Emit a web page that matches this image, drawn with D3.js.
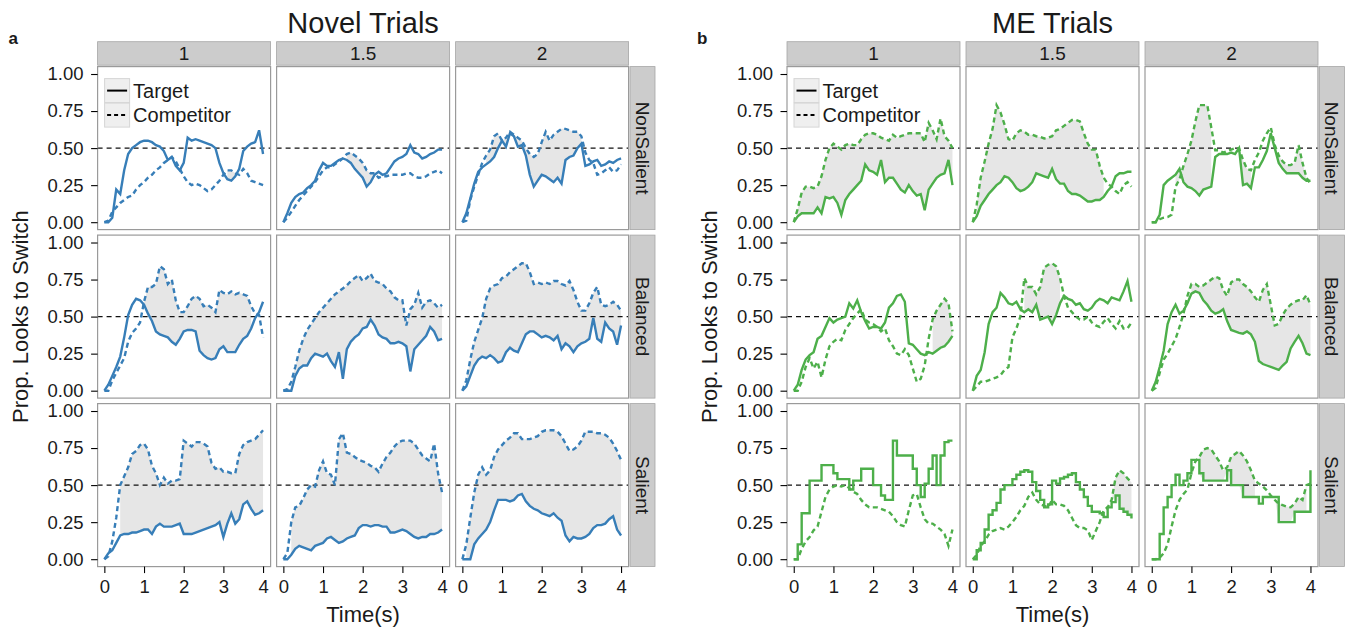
<!DOCTYPE html>
<html>
<head>
<meta charset="utf-8">
<script src="https://cdn.jsdelivr.net/npm/d3@7"></script>
<style>
  body { margin: 0; background: #fff; }
  text { font-family: "Liberation Sans", Arial, sans-serif; fill: #1a1a1a; }
</style>
</head>
<body>
<svg id="chart" width="1350" height="634"></svg>
<script>
// time grid (s) shared by every curve
const times = [0.0,0.1,0.2,0.3,0.4,0.5,0.6,0.7,0.8,0.9,1.0,1.1,1.2,1.3,1.4,1.5,1.6,1.7,1.8,1.9,2.0,
               2.1,2.2,2.3,2.4,2.5,2.6,2.7,2.8,2.9,3.0,3.1,3.2,3.3,3.4,3.5,3.6,3.7,3.8,3.9,4.0];

const rowNames = ["NonSalient", "Balanced", "Salient"];
const colNames = ["1", "1.5", "2"];
const yTicks = [0, 0.25, 0.5, 0.75, 1];
const xTicks = [0, 1, 2, 3, 4];

// ---- Novel trials ----
const novelNS1T = [0.00,0.00,0.03,0.22,0.19,0.35,0.46,0.50,0.52,0.54,0.55,0.55,0.54,0.52,0.51,0.48,0.42,0.44,0.38,0.35,0.40,0.57,0.55,0.56,0.55,0.54,0.53,0.52,0.50,0.40,0.33,0.29,0.28,0.31,0.36,0.48,0.51,0.53,0.54,0.62,0.46];
const novelNS1C = [0.00,0.01,0.07,0.10,0.13,0.15,0.17,0.18,0.22,0.25,0.27,0.30,0.32,0.35,0.37,0.40,0.42,0.44,0.41,0.36,0.31,0.27,0.25,0.26,0.25,0.23,0.21,0.22,0.25,0.28,0.32,0.35,0.35,0.33,0.32,0.36,0.33,0.28,0.27,0.26,0.25];
const novelNS15T = [0.00,0.06,0.13,0.17,0.19,0.20,0.23,0.25,0.28,0.35,0.40,0.38,0.38,0.40,0.42,0.43,0.42,0.40,0.36,0.33,0.30,0.24,0.27,0.32,0.34,0.32,0.33,0.37,0.41,0.43,0.44,0.46,0.52,0.47,0.46,0.43,0.44,0.46,0.47,0.49,0.49];
const novelNS15C = [0.00,0.03,0.07,0.11,0.15,0.18,0.21,0.24,0.27,0.31,0.35,0.37,0.37,0.39,0.41,0.43,0.46,0.47,0.45,0.43,0.40,0.35,0.33,0.33,0.30,0.31,0.31,0.32,0.32,0.32,0.32,0.33,0.33,0.31,0.30,0.30,0.31,0.33,0.34,0.35,0.33];
const novelNS2T = [0.00,0.06,0.16,0.26,0.34,0.37,0.39,0.41,0.44,0.50,0.55,0.51,0.60,0.58,0.51,0.52,0.45,0.32,0.24,0.28,0.32,0.31,0.29,0.27,0.30,0.26,0.42,0.44,0.45,0.50,0.53,0.38,0.39,0.41,0.42,0.38,0.39,0.41,0.40,0.42,0.43];
const novelNS2C = [0.00,0.01,0.15,0.24,0.32,0.40,0.45,0.49,0.58,0.60,0.55,0.57,0.61,0.59,0.57,0.55,0.50,0.46,0.44,0.46,0.54,0.61,0.55,0.59,0.61,0.63,0.63,0.62,0.61,0.61,0.58,0.47,0.42,0.40,0.32,0.33,0.35,0.37,0.34,0.35,0.39];
const novelBal1T = [0.00,0.04,0.10,0.16,0.23,0.36,0.51,0.58,0.62,0.61,0.58,0.52,0.47,0.40,0.38,0.37,0.36,0.33,0.31,0.35,0.40,0.41,0.41,0.40,0.27,0.24,0.22,0.21,0.22,0.28,0.30,0.26,0.26,0.26,0.31,0.35,0.37,0.42,0.49,0.53,0.60];
const novelBal1C = [0.00,0.00,0.07,0.12,0.17,0.22,0.33,0.39,0.42,0.46,0.60,0.70,0.70,0.72,0.84,0.82,0.72,0.75,0.61,0.53,0.53,0.57,0.62,0.64,0.62,0.57,0.58,0.56,0.53,0.68,0.66,0.65,0.67,0.65,0.66,0.65,0.64,0.57,0.52,0.51,0.36];
const novelBal15T = [0.00,0.00,0.00,0.10,0.15,0.17,0.17,0.22,0.25,0.24,0.23,0.25,0.20,0.16,0.26,0.08,0.28,0.33,0.36,0.38,0.42,0.43,0.48,0.44,0.38,0.36,0.35,0.32,0.32,0.33,0.32,0.30,0.13,0.28,0.31,0.34,0.37,0.43,0.40,0.34,0.35];
const novelBal15C = [0.00,0.01,0.06,0.16,0.27,0.35,0.41,0.45,0.49,0.53,0.56,0.59,0.62,0.65,0.67,0.69,0.71,0.74,0.76,0.78,0.74,0.76,0.79,0.74,0.73,0.72,0.69,0.67,0.63,0.61,0.61,0.44,0.55,0.58,0.66,0.56,0.60,0.61,0.59,0.56,0.58];
const novelBal2T = [0.00,0.03,0.10,0.17,0.21,0.23,0.22,0.24,0.22,0.19,0.20,0.26,0.29,0.27,0.26,0.32,0.38,0.40,0.40,0.38,0.36,0.37,0.36,0.34,0.37,0.28,0.32,0.30,0.26,0.30,0.32,0.33,0.35,0.49,0.35,0.33,0.46,0.42,0.40,0.31,0.44];
const novelBal2C = [0.00,0.07,0.21,0.33,0.41,0.49,0.62,0.69,0.71,0.72,0.76,0.77,0.80,0.82,0.84,0.86,0.86,0.80,0.72,0.73,0.72,0.73,0.72,0.74,0.74,0.72,0.71,0.74,0.68,0.60,0.54,0.54,0.59,0.66,0.70,0.58,0.57,0.58,0.60,0.58,0.54];
const novelSal1T = [0.00,0.04,0.06,0.11,0.16,0.17,0.17,0.18,0.18,0.19,0.20,0.20,0.17,0.22,0.24,0.22,0.22,0.22,0.23,0.24,0.17,0.17,0.17,0.18,0.19,0.20,0.21,0.22,0.23,0.25,0.15,0.24,0.31,0.24,0.27,0.37,0.39,0.34,0.30,0.31,0.33];
const novelSal1C = [0.00,0.02,0.12,0.28,0.50,0.56,0.62,0.71,0.73,0.77,0.78,0.74,0.63,0.58,0.50,0.55,0.51,0.53,0.53,0.54,0.80,0.78,0.76,0.79,0.79,0.78,0.76,0.65,0.61,0.62,0.59,0.59,0.58,0.58,0.71,0.77,0.79,0.80,0.81,0.84,0.87];
const novelSal15T = [0.00,0.00,0.03,0.07,0.09,0.08,0.07,0.06,0.09,0.10,0.11,0.14,0.15,0.13,0.11,0.12,0.14,0.15,0.16,0.21,0.23,0.23,0.22,0.23,0.23,0.22,0.22,0.18,0.18,0.19,0.20,0.19,0.17,0.15,0.14,0.15,0.15,0.17,0.17,0.18,0.20];
const novelSal15C = [0.00,0.04,0.25,0.35,0.36,0.41,0.47,0.50,0.49,0.60,0.66,0.58,0.57,0.50,0.81,0.85,0.72,0.71,0.69,0.67,0.66,0.65,0.63,0.62,0.59,0.645,0.69,0.72,0.76,0.79,0.80,0.80,0.80,0.78,0.74,0.70,0.68,0.66,0.78,0.58,0.45];
const novelSal2T = [0.00,0.00,0.00,0.10,0.14,0.17,0.20,0.25,0.33,0.40,0.40,0.40,0.39,0.40,0.43,0.44,0.39,0.36,0.34,0.33,0.31,0.30,0.29,0.31,0.28,0.26,0.16,0.12,0.15,0.14,0.14,0.15,0.17,0.21,0.23,0.23,0.24,0.27,0.29,0.20,0.16];
const novelSal2C = [0.00,0.10,0.28,0.45,0.57,0.62,0.57,0.60,0.69,0.74,0.77,0.80,0.82,0.85,0.85,0.81,0.81,0.81,0.82,0.83,0.86,0.87,0.87,0.87,0.86,0.83,0.78,0.73,0.74,0.76,0.80,0.86,0.86,0.86,0.85,0.85,0.84,0.82,0.78,0.73,0.67];

// shaded windows (s) where the two curves separate
const novelShade = [
  [[[3.1, 3.3]], [[1.6, 2.3]], [[0.6, 3.05]]],
  [[[1.0, 3.75]], [[0.2, 4.0]], [[0.1, 4.0]]],
  [[[0.4, 4.0]], [[0.15, 4.0]], [[0.05, 4.0]]]
];

// ---- ME trials ----
const meNS1T = [0.00,0.04,0.06,0.06,0.06,0.06,0.10,0.06,0.17,0.16,0.17,0.13,0.05,0.15,0.19,0.22,0.25,0.28,0.39,0.35,0.34,0.32,0.42,0.27,0.30,0.30,0.26,0.22,0.20,0.25,0.21,0.18,0.19,0.08,0.22,0.26,0.30,0.32,0.33,0.42,0.25];
const meNS1C = [0.00,0.09,0.20,0.24,0.24,0.23,0.24,0.31,0.42,0.50,0.53,0.51,0.49,0.52,0.53,0.52,0.52,0.56,0.59,0.60,0.60,0.59,0.57,0.56,0.55,0.59,0.57,0.58,0.59,0.60,0.60,0.60,0.60,0.54,0.67,0.62,0.56,0.70,0.58,0.55,0.50];
const meNS15T = [0.00,0.04,0.11,0.15,0.19,0.22,0.25,0.27,0.31,0.30,0.27,0.23,0.21,0.22,0.24,0.27,0.33,0.32,0.31,0.30,0.36,0.29,0.26,0.26,0.21,0.19,0.19,0.18,0.16,0.14,0.14,0.15,0.15,0.17,0.21,0.24,0.31,0.33,0.33,0.34,0.34];
const meNS15C = [0.00,0.12,0.30,0.41,0.53,0.63,0.79,0.74,0.66,0.56,0.55,0.60,0.62,0.61,0.59,0.59,0.58,0.575,0.565,0.57,0.58,0.62,0.63,0.65,0.67,0.69,0.69,0.68,0.60,0.53,0.49,0.49,0.38,0.30,0.26,0.24,0.21,0.19,0.25,0.27,0.24];
const meNS2T = [0.00,0.00,0.05,0.25,0.28,0.30,0.32,0.36,0.27,0.24,0.23,0.21,0.18,0.22,0.23,0.24,0.44,0.46,0.46,0.46,0.47,0.46,0.50,0.25,0.26,0.23,0.37,0.37,0.42,0.48,0.60,0.50,0.40,0.36,0.33,0.33,0.33,0.33,0.30,0.28,0.28];
const meNS2C = [0.00,0.00,0.02,0.03,0.035,0.05,0.24,0.29,0.38,0.46,0.55,0.68,0.79,0.79,0.79,0.64,0.485,0.485,0.47,0.48,0.49,0.50,0.50,0.42,0.36,0.35,0.42,0.47,0.55,0.60,0.64,0.52,0.45,0.41,0.385,0.385,0.40,0.52,0.40,0.30,0.26];
const meBal1T = [0.00,0.04,0.14,0.21,0.24,0.26,0.35,0.37,0.43,0.49,0.46,0.48,0.49,0.50,0.59,0.555,0.61,0.53,0.47,0.42,0.43,0.43,0.42,0.46,0.56,0.59,0.64,0.65,0.60,0.32,0.31,0.28,0.25,0.24,0.26,0.25,0.27,0.29,0.30,0.33,0.37];
const meBal1C = [0.00,0.00,0.06,0.16,0.22,0.15,0.195,0.09,0.21,0.30,0.33,0.35,0.34,0.41,0.45,0.49,0.52,0.55,0.48,0.46,0.45,0.43,0.40,0.42,0.34,0.30,0.25,0.24,0.28,0.24,0.15,0.06,0.08,0.17,0.35,0.48,0.54,0.58,0.62,0.59,0.40];
const meBal15T = [0.00,0.10,0.14,0.26,0.45,0.53,0.56,0.66,0.63,0.59,0.58,0.60,0.55,0.53,0.55,0.53,0.58,0.48,0.49,0.50,0.45,0.51,0.59,0.64,0.62,0.61,0.58,0.59,0.55,0.54,0.56,0.60,0.62,0.61,0.59,0.63,0.62,0.61,0.67,0.74,0.60];
const meBal15C = [0.00,0.03,0.06,0.06,0.07,0.08,0.09,0.105,0.14,0.16,0.36,0.42,0.50,0.76,0.70,0.70,0.65,0.70,0.83,0.85,0.86,0.84,0.76,0.64,0.56,0.53,0.50,0.48,0.48,0.50,0.46,0.44,0.43,0.465,0.49,0.45,0.42,0.47,0.42,0.42,0.46];
const meBal2T = [0.00,0.06,0.16,0.27,0.45,0.53,0.58,0.52,0.54,0.59,0.655,0.67,0.66,0.61,0.58,0.54,0.52,0.53,0.55,0.47,0.41,0.40,0.39,0.385,0.40,0.38,0.33,0.20,0.18,0.17,0.16,0.15,0.14,0.17,0.195,0.285,0.33,0.37,0.32,0.25,0.24];
const meBal2C = [0.00,0.02,0.12,0.21,0.25,0.30,0.35,0.43,0.52,0.64,0.72,0.72,0.70,0.71,0.73,0.75,0.77,0.76,0.68,0.64,0.73,0.75,0.75,0.72,0.70,0.67,0.63,0.60,0.68,0.72,0.58,0.44,0.45,0.51,0.555,0.58,0.60,0.61,0.61,0.645,0.58];
const meSal1T = [0.00,0.10,0.31,0.31,0.53,0.53,0.53,0.635,0.635,0.635,0.58,0.54,0.54,0.54,0.47,0.53,0.53,0.61,0.61,0.61,0.50,0.50,0.43,0.40,0.40,0.80,0.70,0.70,0.70,0.70,0.61,0.50,0.42,0.51,0.61,0.70,0.50,0.70,0.79,0.80,0.80];
const meSal1C = [0.00,0.00,0.07,0.12,0.15,0.195,0.22,0.32,0.42,0.47,0.49,0.50,0.49,0.50,0.48,0.455,0.44,0.40,0.37,0.35,0.35,0.35,0.34,0.33,0.32,0.29,0.25,0.23,0.22,0.33,0.43,0.44,0.35,0.27,0.24,0.24,0.22,0.20,0.17,0.09,0.20];
const meSal15T = [0.00,0.06,0.11,0.20,0.30,0.33,0.38,0.47,0.50,0.50,0.54,0.57,0.59,0.60,0.59,0.52,0.46,0.40,0.35,0.37,0.53,0.51,0.545,0.555,0.57,0.58,0.52,0.47,0.42,0.36,0.32,0.32,0.31,0.285,0.35,0.385,0.43,0.34,0.32,0.30,0.275];
const meSal15C = [0.00,0.03,0.09,0.12,0.165,0.19,0.20,0.21,0.20,0.22,0.25,0.285,0.33,0.36,0.42,0.45,0.40,0.37,0.36,0.35,0.40,0.37,0.37,0.36,0.33,0.28,0.23,0.21,0.21,0.195,0.13,0.19,0.25,0.33,0.35,0.40,0.55,0.60,0.58,0.545,0.52];
const meSal2T = [0.00,0.00,0.17,0.35,0.42,0.50,0.57,0.50,0.53,0.58,0.67,0.67,0.58,0.53,0.53,0.53,0.53,0.53,0.53,0.60,0.50,0.50,0.50,0.42,0.42,0.42,0.42,0.375,0.42,0.42,0.42,0.42,0.25,0.25,0.25,0.25,0.32,0.32,0.32,0.32,0.60];
const meSal2C = [0.00,0.00,0.01,0.04,0.10,0.22,0.33,0.40,0.44,0.47,0.58,0.66,0.69,0.74,0.75,0.74,0.70,0.66,0.60,0.62,0.69,0.71,0.73,0.70,0.66,0.60,0.53,0.51,0.49,0.465,0.43,0.40,0.375,0.365,0.355,0.35,0.375,0.42,0.40,0.50,0.51];

const meShade = [
  [[[0.05, 4.0]], [[0.05, 3.3]], [[0.6, 1.55], [2.2, 2.5], [3.1, 3.9]]],
  [[[3.45, 4.0]], [[1.25, 2.25]], [[1.0, 4.0]]],
  [[], [[3.45, 4.0]], [[1.2, 2.6], [3.1, 3.95]]]
];

const novelTarget = [[novelNS1T, novelNS15T, novelNS2T], [novelBal1T, novelBal15T, novelBal2T], [novelSal1T, novelSal15T, novelSal2T]];
const novelComp   = [[novelNS1C, novelNS15C, novelNS2C], [novelBal1C, novelBal15C, novelBal2C], [novelSal1C, novelSal15C, novelSal2C]];
const meTarget = [[meNS1T, meNS15T, meNS2T], [meBal1T, meBal15T, meBal2T], [meSal1T, meSal15T, meSal2T]];
const meComp   = [[meNS1C, meNS15C, meNS2C], [meBal1C, meBal15C, meBal2C], [meSal1C, meSal15C, meSal2C]];

// ---- layout ----
const svg = d3.select("#chart");
const panelW = 173, panelH = 163, gapX = 6, gapY = 5.5, gridTop = 66.6;
const stripH = 23.5, stripW = 25;
const fontStack = '"Liberation Sans", Arial, sans-serif';

const x = d3.scaleLinear().domain([-0.17, 4.19]).range([0, panelW]);
const y = d3.scaleLinear().domain([-0.05, 1.05]).range([panelH, 0]);

function styleAxis(ax) {
  ax.select(".domain").remove();
  ax.selectAll("line").attr("stroke", "#000").attr("stroke-width", 1.1);
  ax.selectAll("text").style("font-size", "18.5px").attr("fill", "#1a1a1a")
    .style("font-family", fontStack);
}

function drawPanel(cfg) {
  const g = svg.append("g").attr("transform", `translate(${cfg.left},0)`);
  const gridW = 3 * panelW + 2 * gapX;
  const gridH = 3 * panelH + 2 * gapY;

  g.append("text").attr("x", gridW / 2).attr("y", 33)
    .attr("text-anchor", "middle").style("font-size", "29px").text(cfg.title);
  g.append("text").attr("x", cfg.tagX).attr("y", 44)
    .style("font-size", "17px").style("font-weight", "bold").text(cfg.tag);

  // column strips
  colNames.forEach((c, j) => {
    const sx = j * (panelW + gapX);
    g.append("rect").attr("x", sx).attr("y", gridTop - stripH - 1.4)
      .attr("width", panelW).attr("height", stripH)
      .attr("fill", "#cccccc").attr("stroke", "#a6a6a6").attr("stroke-width", 0.8);
    g.append("text").attr("x", sx + panelW / 2).attr("y", gridTop - 6.5)
      .attr("text-anchor", "middle").style("font-size", "19px").text(c);
  });

  // row strips
  rowNames.forEach((r, i) => {
    const sy = gridTop + i * (panelH + gapY);
    const sx = gridW + 1.4;
    g.append("rect").attr("x", sx).attr("y", sy)
      .attr("width", stripW).attr("height", panelH)
      .attr("fill", "#cccccc").attr("stroke", "#a6a6a6").attr("stroke-width", 0.8);
    g.append("text")
      .attr("transform", `translate(${sx + 6},${sy + panelH / 2}) rotate(90)`)
      .attr("text-anchor", "middle").style("font-size", "19px").text(r);
  });

  rowNames.forEach((r, i) => {
    colNames.forEach((c, j) => {
      const fx = j * (panelW + gapX), fy = gridTop + i * (panelH + gapY);
      const f = g.append("g").attr("transform", `translate(${fx},${fy})`);
      // target curves in stepped rows change in discrete jumps
      const stepped = cfg.stepRows.includes(i);
      const curveT = stepped ? d3.curveStepAfter : d3.curveLinear;
      const pts = times.map((t, k) => ({ t: t, target: cfg.target[i][j][k], comp: cfg.comp[i][j][k] }));

      f.append("rect").attr("width", panelW).attr("height", panelH).attr("fill", "#fff");

      const area = d3.area()
        .x(d => x(d.t)).y0(d => y(d.target)).y1(d => y(d.comp));
      cfg.shade[i][j].forEach(([a, b]) => {
        const seg = pts.filter(d => d.t >= a - 1e-9 && d.t <= b + 1e-9);
        f.append("path").attr("d", area(seg)).attr("fill", "#e6e6e6");
      });

      f.append("line").attr("x1", 0).attr("x2", panelW)
        .attr("y1", y(0.5)).attr("y2", y(0.5))
        .attr("stroke", "#111").attr("stroke-width", 1.2).attr("stroke-dasharray", "5,4");

      const lineT = d3.line().curve(curveT).x(d => x(d.t)).y(d => y(d.target));
      const lineC = d3.line().x(d => x(d.t)).y(d => y(d.comp));
      f.append("path").attr("d", lineC(pts)).attr("fill", "none")
        .attr("stroke", cfg.color).attr("stroke-width", 2.4).attr("stroke-dasharray", "5,3.5");
      f.append("path").attr("d", lineT(pts)).attr("fill", "none")
        .attr("stroke", cfg.color).attr("stroke-width", 2.4);

      f.append("rect").attr("width", panelW).attr("height", panelH)
        .attr("fill", "none").attr("stroke", "#9a9a9a").attr("stroke-width", 1.2);

      if (j === 0) {
        const ax = f.append("g").call(d3.axisLeft(y).tickValues(yTicks)
          .tickFormat(d3.format(".2f")).tickSize(6.5).tickPadding(7.5));
        styleAxis(ax);
      }
      if (i === 2) {
        const ax = f.append("g").attr("transform", `translate(0,${panelH})`)
          .call(d3.axisBottom(x).tickValues(xTicks).tickFormat(d3.format("d"))
          .tickSize(6.5).tickPadding(7));
        styleAxis(ax);
      }

      if (i === 0 && j === 0) {
        const lg = f.append("g").attr("transform", "translate(7,12)");
        [["Target", null], ["Competitor", "4,3"]].forEach(([lab, dash], k) => {
          lg.append("rect").attr("x", 0).attr("y", k * 24.5)
            .attr("width", 25).attr("height", 24)
            .attr("fill", "#efefef").attr("stroke", "#d6d6d6").attr("stroke-width", 1);
          lg.append("line").attr("x1", 2.5).attr("x2", 22.5)
            .attr("y1", k * 24.5 + 12).attr("y2", k * 24.5 + 12)
            .attr("stroke", "#000").attr("stroke-width", 2)
            .attr("stroke-dasharray", dash);
          lg.append("text").attr("x", 28.5).attr("y", k * 24.5 + 19)
            .style("font-size", "20px").text(lab);
        });
      }
    });
  });

  g.append("text").attr("x", gridW / 2).attr("y", 622)
    .attr("text-anchor", "middle").style("font-size", "22px").text("Time(s)");
  g.append("text")
    .attr("transform", `translate(${cfg.yTitleX},${gridTop + gridH / 2}) rotate(-90)`)
    .attr("text-anchor", "middle").style("font-size", "22px").text("Prop. Looks to Switch");
}

drawPanel({ left: 97.6, title: "Novel Trials", tag: "a", tagX: -89, yTitleX: -70,
  color: "#377eb8", target: novelTarget, comp: novelComp, shade: novelShade, stepRows: [] });
drawPanel({ left: 787, title: "ME Trials", tag: "b", tagX: -90, yTitleX: -70,
  color: "#4daf4a", target: meTarget, comp: meComp, shade: meShade, stepRows: [2] });
</script>
</body>
</html>
